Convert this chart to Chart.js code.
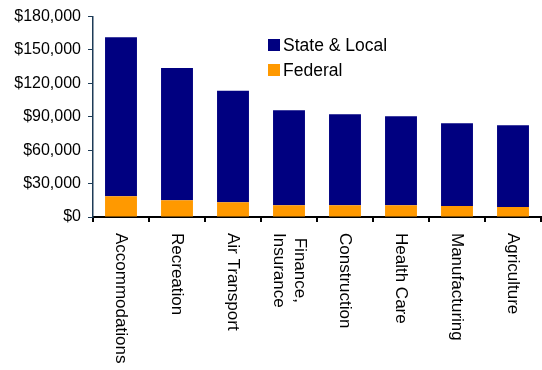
<!DOCTYPE html>
<html>
<head>
<meta charset="utf-8">
<script src="https://cdn.jsdelivr.net/npm/chart.js@4.4.1/dist/chart.umd.min.js"></script>
<style>
    html, body { margin: 0; padding: 0; background: #fff; }
    #wrap { position: relative; width: 542px; height: 370px; }
</style>
</head>
<body>
<div id="wrap"><canvas id="chart"></canvas></div>
<script>
const categories = ['Accommodations', 'Recreation', 'Air Transport', ['Finance,', 'Insurance'],
    'Construction', 'Health Care', 'Manufacturing', 'Agriculture'];
const stateLocal = [142800, 118800, 100200, 85200, 81600, 79800, 74400, 73600];
const federal = [18600, 15100, 13300, 10600, 10600, 10600, 9800, 8900];
const federalBelow = [0, 0, -2700, 0, 0, 0, 0, 0];
const yTicks = [0, 30000, 60000, 90000, 120000, 150000, 180000];

const NAVY = '#000080';
const ORANGE = '#ff9900';
const FONT = '"Liberation Sans", Arial, sans-serif';

// x labels read top to bottom, so draw them ourselves
const verticalLabels = {
    id: 'verticalLabels',
    afterDraw(chart) {
        const ctx = chart.ctx;
        const xScale = chart.scales.x;
        const top = chart.chartArea.bottom + 16;
        ctx.save();
        ctx.fillStyle = '#000';
        ctx.font = '17px ' + FONT;
        ctx.textBaseline = 'middle';
        ctx.textAlign = 'center';
        categories.forEach((label, i) => {
            const lines = Array.isArray(label) ? label : [label];
            const maxW = Math.max(...lines.map(l => ctx.measureText(l).width));
            const x = xScale.getPixelForValue(i);
            ctx.save();
            ctx.translate(x, top);
            ctx.rotate(Math.PI / 2);
            lines.forEach((line, j) => {
                ctx.fillText(line, maxW / 2, (j - (lines.length - 1) / 2) * 21);
            });
            ctx.restore();
        });
        ctx.restore();
    }
};

const boxLegend = {
    id: 'boxLegend',
    afterDraw(chart) {
        const ctx = chart.ctx;
        const items = [chart.data.datasets[1], chart.data.datasets[0]];
        ctx.save();
        ctx.font = '17.5px ' + FONT;
        ctx.textBaseline = 'middle';
        ctx.textAlign = 'left';
        items.forEach((ds, i) => {
            const y = 45 + i * 25;
            ctx.fillStyle = ds.backgroundColor;
            ctx.fillRect(268, y - 6, 12, 12);
            ctx.fillStyle = '#000';
            ctx.fillText(ds.label, 283, y + 1);
        });
        ctx.restore();
    }
};

new Chart(document.getElementById('chart'), {
    type: 'bar',
    data: {
        labels: categories,
        datasets: [
            { label: 'Federal', data: federal, backgroundColor: ORANGE, stack: 's' },
            { label: 'State & Local', data: stateLocal, backgroundColor: NAVY, stack: 's' },
            { label: 'Federal', data: federalBelow, backgroundColor: ORANGE, stack: 's' }
        ]
    },
    options: {
        responsive: true,
        maintainAspectRatio: false,
        animation: false,
        layout: { padding: { top: 14, right: 1, left: 0, bottom: 0 } },
        datasets: {
            bar: { barPercentage: 0.57, categoryPercentage: 1, borderWidth: 0 }
        },
        scales: {
            x: {
                stacked: true,
                grid: { drawOnChartArea: false, offset: true, color: '#000', tickLength: 5, lineWidth: 2 },
                border: { color: '#000', width: 2 },
                ticks: { display: false },
                afterFit(scale) { scale.height = 153; }
            },
            y: {
                stacked: true,
                min: 0,
                max: 180000,
                afterBuildTicks(scale) {
                    scale.ticks = yTicks.map(v => ({ value: v }));
                },
                grid: { drawOnChartArea: false, color: '#1d3b57', tickLength: 5 },
                border: { color: '#1d3b57', width: 1.5 },
                ticks: {
                    padding: 7,
                    color: '#000',
                    font: { family: FONT, size: 16 },
                    callback: (v) => '$' + v.toLocaleString('en-US')
                },
                afterFit(scale) { scale.width = 93; }
            }
        },
        plugins: {
            legend: { display: false },
            tooltip: { enabled: false }
        }
    },
    plugins: [verticalLabels, boxLegend]
});
</script>
</body>
</html>
